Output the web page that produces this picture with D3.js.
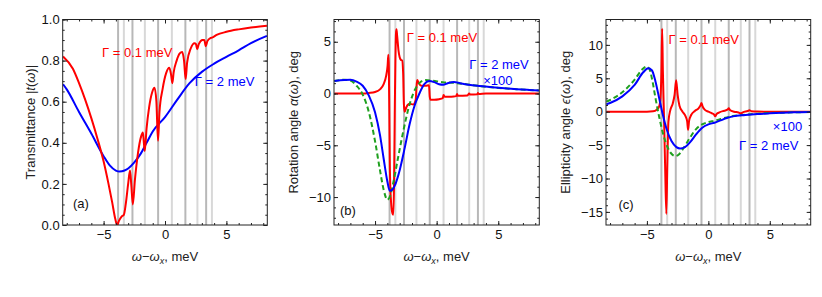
<!DOCTYPE html>
<html>
<head>
<meta charset="UTF-8">
<title>Transmittance, rotation and ellipticity</title>
<script src="https://cdn.jsdelivr.net/npm/d3@7/dist/d3.min.js"></script>
<style>
  body { margin: 0; background: #fff; }
  text { font-family: "Liberation Sans", Arial, sans-serif; }
</style>
</head>
<body>
<svg id="fig" width="822" height="297"></svg>
<script>
// resonance positions (meV) and shade of the grey marker lines
var resX = [-3.82, -3.35, -2.65, -1.64, -0.56, 0.56, 1.66, 2.64, 3.35, 3.82];
var resDark = [1, 0, 1, 0, 1, 0, 1, 0, 1, 0];

// (a) transmittance |t|
var transRed = [[-8.3,0.82],[-7.5,0.76],[-7.0,0.69],[-6.5,0.61],[-6.0,0.52],[-5.5,0.42],[-5.0,0.31],
  [-4.6,0.20],[-4.3,0.11],[-4.05,0.03],[-3.9,0.0],[-3.75,0.02],[-3.55,0.04],[-3.35,0.05],[-3.2,0.10],
  [-3.0,0.20],[-2.85,0.265],[-2.75,0.20],[-2.62,0.10],[-2.45,0.22],[-2.2,0.35],[-1.95,0.43],[-1.8,0.45],
  [-1.72,0.40],[-1.65,0.36],[-1.5,0.47],[-1.3,0.57],[-1.05,0.645],[-0.85,0.668],[-0.7,0.60],[-0.57,0.41],
  [-0.45,0.55],[-0.2,0.66],[0.1,0.74],[0.35,0.765],[0.5,0.73],[0.6,0.69],[0.7,0.74],[0.95,0.80],
  [1.2,0.835],[1.4,0.842],[1.55,0.80],[1.68,0.71],[1.8,0.79],[2.1,0.86],[2.4,0.885],[2.52,0.88],
  [2.62,0.855],[2.75,0.88],[3.05,0.90],[3.2,0.90],[3.32,0.87],[3.45,0.895],[3.7,0.91],[3.83,0.912],
  [4.2,0.925],[5,0.94],[6,0.952],[7,0.961],[8.3,0.969]];
var transBlue = [[-8.3,0.685],[-8,0.66],[-7,0.55],[-6,0.445],[-5,0.335],[-4.5,0.29],[-4,0.265],[-3.7,0.26],
  [-3.3,0.265],[-3,0.275],[-2.5,0.305],[-2,0.345],[-1.5,0.40],[-1,0.455],[0,0.525],[1,0.61],[2,0.69],
  [3,0.745],[4,0.785],[5,0.818],[6,0.85],[7,0.885],[8.3,0.92]];

// (b) rotation angle, deg
var rotRed = [[-8.3,0],[-6,0.0],[-5.5,0.05],[-5,0.15],[-4.6,0.4],[-4.3,0.9],[-4.1,1.7],[-3.98,2.7],
  [-3.92,3.75],[-3.88,2.5],[-3.84,-2],[-3.8,-7],[-3.7,-10.5],[-3.58,-11.6],[-3.52,-11.7],[-3.46,-9],
  [-3.4,-2],[-3.35,3],[-3.3,5.8],[-3.26,6.2],[-3.2,5.5],[-3.1,4.2],[-3.0,3.5],[-2.9,3.25],[-2.8,3.2],
  [-2.72,2.0],[-2.66,-1.0],[-2.6,-1.75],[-2.45,-1.3],[-2.2,-1.0],[-1.9,-1.05],[-1.7,-0.6],[-1.64,0.5],
  [-1.58,1.3],[-1.45,1.0],[-1.25,0.75],[-0.9,0.75],[-0.62,0.8],[-0.56,-0.3],[-0.5,-0.6],[-0.2,-0.6],
  [0.2,-0.55],[0.5,-0.45],[0.56,-0.15],[0.65,-0.3],[1.2,-0.3],[1.58,-0.25],[1.66,-0.05],[1.72,-0.22],
  [2.5,-0.18],[2.64,0.0],[2.7,-0.1],[3.3,-0.06],[3.35,0.05],[3.4,-0.04],[4,0],[8.3,0]];
var rotBlue = [[-8.3,1.2],[-7.5,1.3],[-7.0,1.32],[-6.5,1.15],[-6.0,0.75],[-5.5,-0.2],[-5.0,-1.8],[-4.6,-4.0],
  [-4.3,-6.3],[-4.0,-8.5],[-3.8,-9.4],[-3.6,-9.3],[-3.4,-8.9],[-3.0,-7.4],[-2.6,-5.3],[-2.2,-3.0],
  [-1.8,-1.2],[-1.4,0.0],[-1.0,0.9],[-0.6,1.2],[-0.2,1.1],[0.2,0.9],[0.54,0.85],[0.9,1.0],[1.4,1.12],
  [1.9,1.0],[2.6,0.85],[3.5,0.72],[4.5,0.6],[5.5,0.5],[6.5,0.42],[7.5,0.35],[8.3,0.3]];
var rotGreen = [[-8.3,1.2],[-7.5,1.33],[-7.0,1.25],[-6.5,0.75],[-6.0,-0.1],[-5.5,-1.8],[-5.0,-4.6],
  [-4.6,-7.4],[-4.3,-9.3],[-4.0,-10.25],[-3.75,-9.8],[-3.5,-8.5],[-3.1,-6.0],[-2.7,-3.6],[-2.3,-1.5],
  [-1.9,0.0],[-1.4,1.0],[-0.9,1.3],[-0.4,1.25],[0.5,1.1],[1.5,1.02],[2.5,0.88],[3.5,0.72],[4.5,0.6],
  [5.5,0.5],[6.5,0.42],[7.5,0.35],[8.3,0.3]];

// (c) ellipticity angle, deg
var ellRed = [[-8.3,0],[-5,0],[-4.5,0.05],[-4.2,0.3],[-4.0,0.8],[-3.9,2],[-3.82,6],[-3.76,12.4],[-3.7,6],
  [-3.62,0],[-3.52,-8],[-3.42,-15.3],[-3.34,-8],[-3.25,-1.5],[-3.1,0.2],[-2.9,1.2],[-2.75,2.5],
  [-2.62,4.7],[-2.5,2.5],[-2.35,0.9],[-2.1,0],[-1.85,-0.7],[-1.72,-1.5],[-1.65,-2.7],[-1.57,-1.4],
  [-1.4,-0.5],[-1.1,0.1],[-0.8,0.5],[-0.65,0.9],[-0.56,1.3],[-0.47,0.8],[-0.3,0.3],[0,0],[0.3,-0.25],
  [0.47,-0.45],[0.56,-0.7],[0.65,-0.4],[0.9,-0.1],[1.3,0.15],[1.55,0.3],[1.66,0.5],[1.76,0.25],
  [2.1,0.0],[2.45,-0.12],[2.64,-0.25],[2.8,-0.1],[3.2,0.1],[3.35,0.2],[3.5,0.08],[4,0.02],[5,0],[8.3,0]];
var ellBlue = [[-8.3,1.1],[-8,1.3],[-7,2.3],[-6,4.0],[-5.3,5.9],[-4.9,6.5],[-4.6,6.2],[-4.3,4.5],[-4.0,2.0],
  [-3.7,-0.5],[-3.4,-2.6],[-3.0,-4.4],[-2.6,-5.3],[-2.3,-5.5],[-1.9,-5.3],[-1.5,-4.6],[-1.0,-3.4],
  [-0.5,-2.4],[0,-1.9],[0.5,-1.65],[1,-1.3],[1.5,-0.95],[2,-0.7],[3,-0.5],[4,-0.35],[5,-0.25],
  [6,-0.17],[7,-0.1],[8.3,-0.05]];
var ellGreen = [[-8.3,1.5],[-8,1.75],[-7,2.9],[-6,4.8],[-5.4,6.3],[-5.05,6.75],[-4.8,6.4],[-4.55,4.6],
  [-4.3,2.0],[-4.0,-0.8],[-3.7,-3.2],[-3.3,-5.4],[-3.0,-6.3],[-2.7,-6.65],[-2.4,-6.4],[-2.0,-5.4],
  [-1.5,-3.9],[-1.0,-2.6],[-0.5,-1.9],[0,-1.55],[0.5,-1.35],[1,-1.1],[1.5,-0.85],[2,-0.65],[3,-0.45],
  [4,-0.3],[5,-0.2],[6,-0.14],[7,-0.09],[8.3,-0.05]];

var xTicks = [-5, 0, 5];
var yTicksA = [0, 0.2, 0.4, 0.6, 0.8, 1.0];
var yTicksB = [-10, -5, 0, 5];
var yTicksC = [-15, -10, -5, 0, 5, 10];

var RED = "#ff0000", BLUE = "#0000ff", GREEN = "#1fa01f";
var svg = d3.select("#fig");
svg.append("rect").attr("width", 822).attr("height", 297).attr("fill", "#fff");

var plotTop = 19.5, plotBottom = 225;

function drawPanel(p) {
  var x = d3.scaleLinear().domain([-8.33, 8.33]).range([p.left, p.right]);
  var y = d3.scaleLinear().domain(p.ydom).range([plotBottom, plotTop]);
  var g = svg.append("g");

  var clipId = "clip" + p.name;
  svg.append("clipPath").attr("id", clipId).append("rect")
    .attr("x", p.left).attr("y", plotTop).attr("width", p.right - p.left).attr("height", plotBottom - plotTop);
  var plot = g.append("g").attr("clip-path", "url(#" + clipId + ")");

  // grey resonance lines
  plot.selectAll("line.res").data(resX).enter().append("line")
    .attr("x1", function(d) { return x(d); }).attr("x2", function(d) { return x(d); })
    .attr("y1", plotTop).attr("y2", plotBottom)
    .attr("stroke", function(d, i) { return resDark[i] ? "#b8b8b8" : "#d8d8d8"; })
    .attr("stroke-width", 2);

  var line = d3.line().x(function(d) { return x(d[0]); }).y(function(d) { return y(d[1]); })
    .curve(d3.curveMonotoneX);

  p.series.forEach(function(s) {
    plot.append("path").datum(s.data).attr("d", line)
      .attr("fill", "none").attr("stroke", s.color).attr("stroke-width", 2)
      .attr("stroke-dasharray", s.dash || null);
  });

  // frame ticks, inward, mirrored
  var minorX = d3.range(-8, 9, 1);
  var minorY = d3.range(Math.ceil(p.ydom[0] / p.minor - 1e-9), Math.floor(p.ydom[1] / p.minor + 1e-9) + 1)
    .map(function(k) { return +(k * p.minor).toFixed(3); });
  function ax(axisFn, scale, vals, size, fmt, pos, isX) {
    var a = axisFn(scale).tickValues(vals).tickSize(size).tickPadding(isX ? 5 : 3);
    a.tickFormat(fmt ? fmt : "");
    var gg = g.append("g").attr("transform", isX ? "translate(0," + pos + ")" : "translate(" + pos + ",0)").call(a);
    gg.select(".domain").remove();
    gg.selectAll("line").attr("stroke", "#222");
    gg.selectAll("text").attr("font-size", 13).attr("fill", "#111")
      .style("font-family", '"Liberation Sans", Arial, sans-serif');
    return gg;
  }
  ax(d3.axisBottom, x, xTicks, -4, function(d) { return d3.format("d")(d); }, plotBottom, true);
  ax(d3.axisBottom, x, minorX, -2, null, plotBottom, true);
  ax(d3.axisTop, x, xTicks, -4, null, plotTop, true);
  ax(d3.axisTop, x, minorX, -2, null, plotTop, true);
  ax(d3.axisLeft, y, p.yticks, -4, p.yfmt, p.left, false);
  ax(d3.axisLeft, y, minorY, -2, null, p.left, false);
  ax(d3.axisRight, y, p.yticks, -4, null, p.right, false);
  ax(d3.axisRight, y, minorY, -2, null, p.right, false);

  g.append("rect").attr("x", p.left).attr("y", plotTop)
    .attr("width", p.right - p.left).attr("height", plotBottom - plotTop)
    .attr("fill", "none").attr("stroke", "#222").attr("stroke-width", 1);

  // axis titles
  var xt = g.append("text").attr("x", (p.left + p.right) / 2).attr("y", 261)
    .attr("text-anchor", "middle").attr("font-size", 13).attr("fill", "#222");
  xt.append("tspan").attr("font-style", "italic").text("ω");
  xt.append("tspan").text("−");
  xt.append("tspan").attr("font-style", "italic").text("ω");
  xt.append("tspan").attr("font-style", "italic").attr("font-size", 9).attr("dy", 3).text("x");
  xt.append("tspan").attr("dy", -3).text(", meV");

  var yt = g.append("text").attr("transform", "translate(" + p.ytx + "," + ((plotTop + plotBottom) / 2) + ") rotate(-90)")
    .attr("text-anchor", "middle").attr("dy", "0.35em").attr("font-size", 13).attr("fill", "#222");
  p.ytitle.forEach(function(part) {
    yt.append("tspan").attr("font-style", part[1] ? "italic" : null).text(part[0]);
  });

  p.labels.forEach(function(l) {
    g.append("text").attr("x", x(l.x)).attr("y", y(l.y)).attr("font-size", 13)
      .attr("fill", l.color).text(l.text);
  });
}

drawPanel({
  name: "a", left: 62.7, right: 267.3, ydom: [0, 1], yticks: yTicksA, minor: 0.05,
  yfmt: d3.format(".1f"), ytx: 30,
  ytitle: [["Transmittance |", 0], ["t", 1], ["(", 0], ["ω", 1], [")|", 0]],
  series: [{ data: transBlue, color: BLUE }, { data: transRed, color: RED }],
  labels: [
    { text: "Γ = 0.1 meV", x: -5.13, y: 0.817, color: RED },
    { text: "Γ = 2 meV", x: 2.43, y: 0.676, color: BLUE },
    { text: "(a)", x: -7.49, y: 0.083, color: "#111" }
  ]
});

drawPanel({
  name: "b", left: 334, right: 539.3, ydom: [-12.7, 7.15], yticks: yTicksB, minor: 1,
  yfmt: d3.format("d"), ytx: 293,
  ytitle: [["Rotation angle ", 0], ["α", 1], ["(", 0], ["ω", 1], ["), deg", 0]],
  series: [{ data: rotRed, color: RED }, { data: rotGreen, color: GREEN, dash: "5,3" }, { data: rotBlue, color: BLUE }],
  labels: [
    { text: "Γ = 0.1 meV", x: -2.43, y: 5.0, color: RED },
    { text: "Γ = 2 meV", x: 2.64, y: 2.41, color: BLUE },
    { text: "×100", x: 3.78, y: 0.87, color: BLUE },
    { text: "(b)", x: -7.84, y: -11.7, color: "#111" }
  ]
});

drawPanel({
  name: "c", left: 606, right: 810.7, ydom: [-16.96, 13.8], yticks: yTicksC, minor: 1,
  yfmt: d3.format("d"), ytx: 565,
  ytitle: [["Ellipticity angle ", 0], ["ϵ", 1], ["(", 0], ["ω", 1], ["), deg", 0]],
  series: [{ data: ellRed, color: RED }, { data: ellGreen, color: GREEN, dash: "5,3" }, { data: ellBlue, color: BLUE }],
  labels: [
    { text: "Γ = 0.1 meV", x: -3.24, y: 10.2, color: RED },
    { text: "×100", x: 5.25, y: -2.9, color: BLUE },
    { text: "Γ = 2 meV", x: 2.49, y: -5.73, color: BLUE },
    { text: "(c)", x: -7.32, y: -14.6, color: "#111" }
  ]
});
</script>
</body>
</html>
